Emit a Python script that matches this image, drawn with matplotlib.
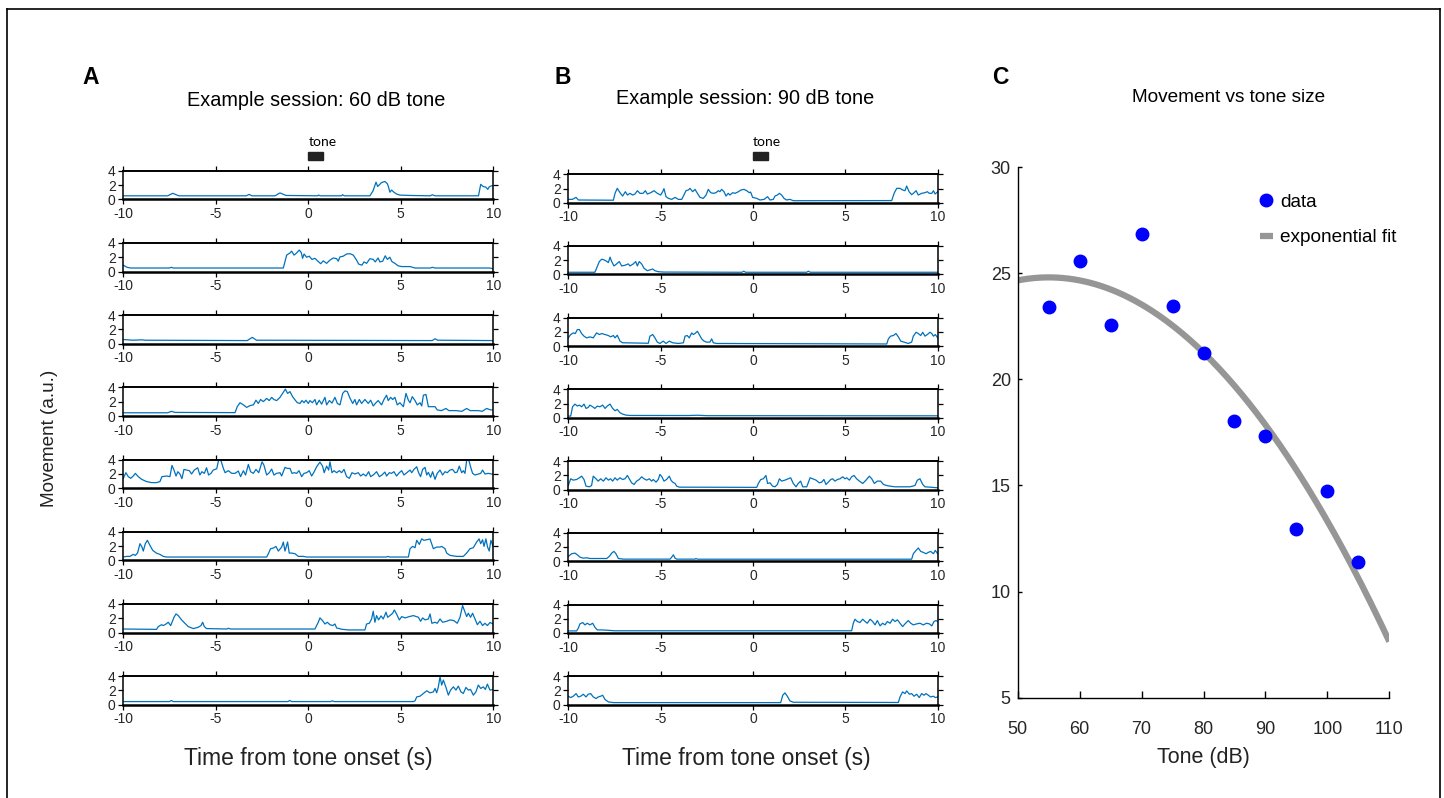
import matplotlib
matplotlib.use("Agg")
import matplotlib.pyplot as plt
import matplotlib.transforms as mtransforms
from matplotlib.patches import Rectangle
import numpy as np

plt.rcParams['font.family'] = ['Liberation Sans', 'DejaVu Sans']
plt.rcParams['axes.unicode_minus'] = False

# ---------------- data ----------------
# Panel A: example session, 60 dB tone (time s, movement a.u.)
A1 = [(-10,0.5),(-7.6,0.5),(-7.33,0.85),(-7.0,0.5),(-3.35,0.5),(-3.2,0.7),(-3.05,0.5),(-1.8,0.5),(-1.53,0.9),(-1.2,0.55),
      (0.5,0.5),(0.55,0.6),(0.65,0.5),(1.8,0.5),(1.85,0.65),(1.95,0.5),(3.33,0.5),(3.5,1.2),(3.66,2.4),(3.75,1.8),(3.96,2.35),
      (4.14,2.5),(4.27,2.2),(4.34,1.7),(4.41,1.0),(4.5,1.3),(4.63,1.0),(4.77,0.75),(4.95,0.6),(5.5,0.55),(6.6,0.5),(6.7,0.65),
      (6.85,0.5),(9.2,0.5),(9.32,2.1),(9.45,1.8),(9.6,1.7),(9.7,1.4),(9.78,1.75),(9.9,1.9),(10,1.9)]
A2 = [(-10,0.9),(-9.8,0.6),(-9.6,0.5),(-7.5,0.5),(-7.4,0.6),(-7.3,0.5),(-1.35,0.5),(-1.17,2.3),(-0.99,2.6),(-0.9,2.85),
      (-0.77,2.3),(-0.63,2.6),(-0.49,3.0),(-0.38,2.65),(-0.31,1.85),(-0.23,2.45),(-0.09,2.0),(0.05,2.15),(0.2,1.7),(0.36,1.85),
      (0.54,1.4),(0.67,1.1),(0.81,1.5),(0.99,1.15),(1.17,1.6),(1.35,1.9),(1.53,1.8),(1.62,1.45),(1.71,2.05),(1.89,2.15),
      (2.07,2.45),(2.25,2.5),(2.43,2.3),(2.61,1.6),(2.72,1.05),(2.9,0.9),(3.01,1.35),(3.15,1.15),(3.33,1.8),(3.51,1.7),
      (3.62,1.35),(3.77,1.9),(3.87,1.35),(4.02,1.45),(4.16,2.2),(4.27,1.7),(4.41,2.0),(4.52,1.4),(4.68,1.15),(4.86,0.8),
      (5.05,0.7),(5.5,0.7),(5.77,0.5),(6.6,0.5),(6.7,0.6),(6.85,0.5),(9.8,0.5),(10,0.4)]
A3 = [(-10,0.6),(-9.5,0.5),(-9.0,0.55),(-8.8,0.5),(-3.3,0.45),(-3.03,0.9),(-2.8,0.5),(6.7,0.45),(6.85,0.7),(7.0,0.5),(10,0.45)]
A4 = [(-10,0.45),(-7.6,0.45),(-7.4,0.65),(-7.2,0.5),(-3.96,0.47),(-3.84,1.3),(-3.69,1.85),(-3.51,1.55),(-3.33,1.2),
      (-3.15,1.45),(-2.97,1.55),(-2.83,2.2),(-2.7,1.75),(-2.58,2.3),(-2.43,2.0),(-2.25,2.45),(-2.11,2.15),(-1.98,2.6),
      (-1.86,2.3),(-1.71,2.15),(-1.53,2.6),(-1.39,3.15),(-1.24,3.75),(-1.12,3.15),(-0.99,3.4),(-0.85,2.7),(-0.72,2.25),
      (-0.59,1.85),(-0.45,1.75),(-0.34,2.15),(-0.23,1.85),(-0.13,2.2),(0.0,1.75),(0.09,2.15),(0.22,1.85),(0.36,2.3),
      (0.45,1.55),(0.59,2.2),(0.72,1.65),(0.9,2.6),(0.99,1.55),(1.14,2.15),(1.28,1.8),(1.44,2.6),(1.57,1.75),(1.71,1.55),
      (1.86,3.15),(1.98,3.5),(2.11,3.4),(2.25,2.5),(2.4,1.75),(2.52,2.3),(2.61,1.55),(2.76,2.3),(2.88,1.75),(3.06,2.3),
      (3.24,1.75),(3.37,2.2),(3.51,1.4),(3.66,1.85),(3.78,2.15),(3.96,1.55),(4.09,2.3),(4.23,2.9),(4.32,2.15),(4.45,2.6),
      (4.56,2.3),(4.68,2.6),(4.81,1.55),(4.95,1.85),(5.14,1.3),(5.28,3.15),(5.41,2.2),(5.5,1.85),(5.62,2.7),(5.77,2.15),
      (5.89,1.55),(6.04,1.85),(6.13,1.4),(6.22,2.9),(6.36,3.0),(6.49,1.3),(6.85,1.3),(6.97,0.85),(7.2,0.75),(7.44,1.05),
      (7.6,0.75),(8.0,0.75),(8.3,0.65),(8.56,1.05),(8.75,0.75),(9.2,0.75),(9.4,0.65),(9.64,1.05),(9.85,0.85),(10,0.85)]
A5 = [(-10,1.38),(-9.86,2.16),(-9.73,1.61),(-9.6,1.38),(-9.46,1.7),(-9.35,2.07),(-9.19,1.61),(-9.01,1.24),(-8.74,0.92),
      (-8.47,0.78),(-8.2,0.78),(-8.02,0.92),(-7.91,1.61),(-7.66,1.7),(-7.48,1.61),(-7.37,3.17),(-7.26,2.53),(-7.15,1.7),
      (-7.05,2.3),(-6.94,1.98),(-6.83,1.33),(-6.72,2.62),(-6.58,2.53),(-6.43,2.44),(-6.31,1.98),(-6.16,2.53),(-5.98,2.85),
      (-5.86,1.84),(-5.75,2.3),(-5.62,2.07),(-5.5,2.85),(-5.39,1.84),(-5.26,2.07),(-5.14,2.53),(-4.95,2.71),(-4.85,3.9),
      (-4.74,4.0),(-4.59,2.76),(-4.5,2.16),(-4.32,2.44),(-4.14,2.07),(-3.96,2.07),(-3.78,2.39),(-3.66,1.61),(-3.51,2.44),
      (-3.39,1.84),(-3.24,3.31),(-3.12,2.3),(-2.97,2.07),(-2.83,2.62),(-2.68,2.16),(-2.5,3.68),(-2.4,3.22),(-2.25,1.84),
      (-2.11,2.16),(-1.98,2.67),(-1.86,1.84),(-1.71,2.07),(-1.53,2.16),(-1.44,1.7),(-1.26,2.9),(-1.14,2.76),(-0.99,2.76),
      (-0.88,2.07),(-0.76,2.16),(-0.63,2.07),(-0.5,2.44),(-0.36,1.61),(-0.23,2.07),(-0.09,2.16),(0.05,2.44),(0.18,1.7),
      (0.31,2.25),(0.45,2.99),(0.63,3.63),(0.77,3.08),(0.86,2.16),(0.99,3.08),(1.1,2.53),(1.17,3.68),(1.28,2.16),(1.39,2.44),
      (1.53,2.16),(1.68,2.44),(1.8,2.16),(1.93,2.62),(2.07,1.61),(2.22,1.38),(2.36,2.16),(2.52,1.98),(2.7,2.16),(2.83,1.7),
      (2.97,1.98),(3.12,1.7),(3.26,2.3),(3.37,1.61),(3.51,1.84),(3.69,2.3),(3.84,1.61),(3.98,1.84),(4.14,2.25),(4.23,1.7),
      (4.38,2.16),(4.5,2.07),(4.63,2.3),(4.77,1.7),(4.92,2.16),(5.05,2.44),(5.17,1.84),(5.32,2.16),(5.5,2.53),(5.59,2.16),
      (5.71,2.62),(5.86,2.99),(5.96,2.16),(6.07,1.61),(6.18,2.62),(6.31,2.9),(6.4,1.84),(6.49,2.21),(6.61,1.52),(6.72,2.3),
      (6.85,1.24),(6.97,2.07),(7.12,2.53),(7.26,1.84),(7.39,2.3),(7.51,2.16),(7.66,2.53),(7.8,2.62),(7.93,2.16),(8.05,2.25),
      (8.16,3.08),(8.29,2.16),(8.38,2.44),(8.47,2.07),(8.56,3.9),(8.67,4.0),(8.77,2.99),(8.88,2.07),(9.01,1.84),(9.19,1.98),
      (9.32,2.07),(9.42,2.53),(9.55,1.98),(9.73,2.07),(10,1.93)]
A6 = [(-10,0.47),(-9.82,0.56),(-9.64,0.56),(-9.46,0.84),(-9.35,0.7),(-9.23,1.02),(-9.1,2.33),(-8.99,1.86),(-8.92,1.3),
      (-8.81,2.33),(-8.7,2.8),(-8.56,2.1),(-8.41,1.4),(-8.2,1.0),(-8.02,0.84),(-7.84,0.56),(-7.66,0.47),(-2.25,0.47),
      (-2.16,0.93),(-2.04,1.63),(-1.89,1.72),(-1.75,1.95),(-1.62,1.3),(-1.44,1.86),(-1.35,2.56),(-1.26,1.3),(-1.12,2.56),
      (-1.03,1.02),(-0.9,1.02),(-0.72,0.93),(-0.54,0.56),(-0.27,0.56),(-0.09,0.47),(4.2,0.47),(4.3,0.55),(4.4,0.47),
      (5.41,0.47),(5.5,1.63),(5.64,1.95),(5.77,1.77),(5.86,2.8),(6.0,2.23),(6.13,3.0),(6.25,2.8),(6.4,2.88),(6.58,2.98),
      (6.76,1.63),(6.94,1.86),(7.12,1.86),(7.21,1.95),(7.39,1.63),(7.48,1.02),(7.66,0.7),(8.02,0.56),(8.38,0.56),(8.56,1.02),
      (8.74,1.63),(8.92,1.77),(9.1,2.56),(9.23,3.0),(9.32,2.33),(9.42,2.88),(9.5,1.95),(9.6,3.0),(9.69,1.86),(9.78,1.3),
      (9.87,2.8),(10,1.86)]
A7 = [(-10,0.5),(-8.2,0.45),(-8.11,0.84),(-7.93,1.1),(-7.84,0.98),(-7.69,1.2),(-7.57,1.44),(-7.44,0.98),(-7.33,1.67),
      (-7.26,2.14),(-7.15,2.6),(-7.03,2.37),(-6.85,1.77),(-6.67,1.3),(-6.49,0.84),(-6.22,0.56),(-5.95,0.74),(-5.8,0.98),
      (-5.71,1.44),(-5.62,0.84),(-5.5,0.56),(-4.4,0.5),(-4.32,0.6),(-4.2,0.5),(0.36,0.5),(0.45,0.98),(0.54,1.44),(0.63,2.05),
      (0.77,1.67),(0.9,1.2),(1.03,1.44),(1.17,1.1),(1.32,0.98),(1.44,1.2),(1.53,0.65),(1.8,0.47),(2.16,0.37),(3.06,0.37),
      (3.15,1.2),(3.3,1.3),(3.42,1.9),(3.51,2.98),(3.6,1.44),(3.69,2.37),(3.8,1.77),(3.93,2.33),(4.05,1.9),(4.2,2.84),
      (4.29,2.14),(4.41,2.37),(4.56,2.7),(4.65,3.16),(4.77,2.6),(4.92,1.77),(5.05,2.23),(5.23,2.05),(5.46,2.23),(5.68,2.37),
      (5.95,2.14),(6.07,1.58),(6.18,2.05),(6.31,1.77),(6.49,1.9),(6.58,2.6),(6.68,1.3),(6.85,1.44),(6.97,1.3),(7.12,1.9),
      (7.26,1.44),(7.48,1.58),(7.66,1.77),(7.87,1.67),(8.05,1.3),(8.2,2.14),(8.34,3.77),(8.44,3.07),(8.56,2.23),(8.65,2.7),
      (8.77,2.14),(8.88,2.7),(9.01,1.9),(9.14,1.1),(9.28,1.58),(9.42,0.98),(9.55,1.3),(9.68,0.98),(9.82,1.4),(10,1.2)]
A8 = [(-10,0.45),(-7.5,0.45),(-7.4,0.6),(-7.3,0.45),(-1.1,0.45),(-1.0,0.6),(-0.9,0.45),(1.2,0.45),(1.3,0.55),(1.4,0.45),
      (5.68,0.45),(5.77,0.56),(5.86,1.1),(6.04,1.2),(6.22,1.58),(6.4,1.95),(6.58,1.67),(6.76,1.8),(6.85,2.28),(6.94,1.67),
      (7.03,2.5),(7.12,3.9),(7.21,2.75),(7.3,3.44),(7.42,2.6),(7.57,1.35),(7.69,2.05),(7.84,2.5),(7.98,2.05),(8.11,2.6),
      (8.25,1.8),(8.38,1.58),(8.52,2.42),(8.65,2.05),(8.77,2.14),(8.92,1.35),(9.06,1.8),(9.19,2.75),(9.32,2.28),(9.46,2.5),
      (9.57,2.14),(9.68,2.88),(9.82,2.05),(10,2.14)]

# Panel B: example session, 90 dB tone
B1 = [(-10,0.47),(-9.78,0.47),(-9.58,0.75),(-9.45,0.38),(-7.56,0.35),(-7.47,1.32),(-7.35,2.02),(-7.2,1.41),(-7.06,0.94),
      (-6.91,1.55),(-6.8,1.08),(-6.66,1.32),(-6.52,1.08),(-6.39,1.22),(-6.26,1.69),(-6.12,1.32),(-5.95,1.32),(-5.83,1.69),
      (-5.72,1.22),(-5.54,1.41),(-5.36,1.69),(-5.18,1.32),(-5.0,1.08),(-4.89,1.55),(-4.82,1.98),(-4.71,0.85),(-4.58,0.61),
      (-4.4,0.47),(-4.22,0.75),(-4.04,0.47),(-3.86,0.47),(-3.74,1.08),(-3.63,1.69),(-3.5,1.79),(-3.41,2.02),(-3.27,1.55),
      (-3.14,1.88),(-3.01,1.32),(-2.87,0.75),(-2.69,0.61),(-2.54,1.08),(-2.42,1.88),(-2.29,1.41),(-2.15,1.32),(-2.0,1.41),
      (-1.88,1.69),(-1.79,1.55),(-1.7,1.88),(-1.57,1.55),(-1.46,0.94),(-1.34,1.32),(-1.25,1.08),(-1.1,1.41),(-0.97,1.32),
      (-0.79,1.55),(-0.65,1.79),(-0.49,1.88),(-0.34,1.69),(-0.2,1.41),(-0.13,1.5),(-0.02,0.75),(0.2,0.61),(0.38,0.38),
      (0.6,0.47),(0.79,0.85),(0.92,0.38),(1.1,0.47),(1.19,0.94),(1.32,1.08),(1.43,1.32),(1.55,1.08),(1.68,0.61),(1.82,0.38),
      (2.0,0.47),(2.18,0.28),(7.51,0.3),(7.64,1.32),(7.78,2.02),(7.96,2.02),(8.1,1.79),(8.23,1.69),(8.32,2.35),(8.45,1.55),
      (8.59,1.13),(8.72,1.41),(8.83,1.69),(8.95,1.08),(9.13,1.32),(9.31,1.41),(9.44,1.55),(9.55,1.32),(9.68,1.32),(9.77,1.69),
      (9.86,1.22),(10,1.55)]
B2 = [(-10,0.3),(-8.56,0.3),(-8.47,0.86),(-8.32,1.81),(-8.19,2.14),(-8.07,2.05),(-7.96,1.9),(-7.83,1.67),(-7.74,2.43),
      (-7.65,1.81),(-7.53,1.19),(-7.38,1.48),(-7.24,1.81),(-7.11,1.19),(-6.93,1.29),(-6.75,1.48),(-6.66,1.19),(-6.48,1.48),
      (-6.35,1.81),(-6.26,1.19),(-6.16,1.81),(-6.03,1.48),(-5.9,0.86),(-5.72,0.52),(-5.43,0.76),(-5.31,0.52),(-5.13,0.38),
      (-4.86,0.33),(-0.6,0.3),(-0.5,0.45),(-0.4,0.3),(2.9,0.3),(3.0,0.45),(3.1,0.3),(10,0.3)]
B3 = [(-10,1.16),(-9.87,1.63),(-9.73,1.86),(-9.62,1.77),(-9.51,2.33),(-9.4,2.33),(-9.28,1.77),(-9.15,1.4),(-9.01,1.16),
      (-8.83,1.3),(-8.65,1.16),(-8.47,1.86),(-8.32,1.63),(-8.19,1.77),(-8.01,1.63),(-7.83,1.49),(-7.71,1.3),(-7.56,1.49),
      (-7.47,1.16),(-7.35,1.53),(-7.2,0.7),(-7.06,0.47),(-5.67,0.4),(-5.58,1.4),(-5.43,1.63),(-5.31,1.16),(-5.18,0.56),
      (-5.04,0.37),(-4.86,0.7),(-4.71,0.37),(-4.53,0.7),(-4.35,0.47),(-4.04,0.37),(-3.77,0.47),(-3.68,1.4),(-3.56,1.49),
      (-3.45,1.16),(-3.32,1.86),(-3.23,1.63),(-3.14,1.77),(-3.01,2.09),(-2.91,1.63),(-2.78,1.02),(-2.65,0.7),(-2.51,0.56),
      (-2.33,0.56),(-2.24,1.02),(-2.15,0.47),(-1.97,0.37),(7.24,0.3),(7.33,1.02),(7.45,1.4),(7.6,1.49),(7.74,1.77),
      (7.87,1.3),(8.0,0.7),(8.18,0.56),(8.41,0.37),(8.59,0.56),(8.68,1.4),(8.83,1.95),(8.95,1.77),(9.08,1.49),(9.19,1.95),
      (9.31,1.4),(9.44,1.63),(9.58,1.95),(9.68,1.77),(9.77,1.4),(9.87,1.63),(10,1.16)]
B4 = [(-10,0.24),(-9.87,0.24),(-9.77,1.55),(-9.64,1.93),(-9.51,1.65),(-9.4,1.79),(-9.28,1.55),(-9.15,1.93),(-9.04,1.32),
      (-8.92,1.46),(-8.83,1.79),(-8.68,1.55),(-8.56,1.32),(-8.43,1.65),(-8.29,1.55),(-8.14,1.79),(-8.01,1.32),(-7.89,1.65),
      (-7.74,1.93),(-7.6,1.32),(-7.47,0.99),(-7.35,1.18),(-7.2,0.71),(-7.06,0.52),(-6.88,0.38),(-6.66,0.33),(-3.5,0.32),
      (-3.0,0.36),(-2.5,0.3),(10,0.28)]
B5 = [(-10,0.56),(-9.87,1.51),(-9.73,1.32),(-9.55,1.41),(-9.4,1.65),(-9.28,1.88),(-9.15,1.41),(-9.04,0.47),(-8.86,0.38),
      (-8.74,0.56),(-8.65,1.88),(-8.5,1.51),(-8.38,1.18),(-8.25,1.51),(-8.1,1.18),(-7.96,1.65),(-7.83,1.32),(-7.71,1.51),
      (-7.6,1.18),(-7.47,1.65),(-7.35,1.32),(-7.2,1.65),(-7.06,1.41),(-6.93,1.51),(-6.8,1.98),(-6.7,1.51),(-6.57,0.94),
      (-6.44,0.71),(-6.3,1.18),(-6.16,1.41),(-6.03,1.79),(-5.9,1.51),(-5.76,1.32),(-5.61,1.51),(-5.49,1.18),(-5.4,1.41),
      (-5.25,1.04),(-5.13,1.41),(-5.04,2.12),(-4.93,1.79),(-4.82,1.18),(-4.68,1.41),(-4.53,1.88),(-4.44,1.32),(-4.35,1.04),
      (-4.22,0.85),(-4.13,0.47),(-3.99,0.33),(0.2,0.3),(0.29,0.85),(0.42,1.41),(0.56,1.51),(0.7,1.98),(0.79,0.85),(0.92,0.94),
      (1.06,0.47),(1.19,0.38),(1.32,0.71),(1.43,1.51),(1.55,1.18),(1.73,1.32),(1.91,1.51),(2.04,1.65),(2.18,0.85),(2.33,0.38),
      (2.45,0.85),(2.58,1.18),(2.69,0.38),(2.91,0.38),(3.09,1.65),(3.23,1.51),(3.41,1.32),(3.59,0.94),(3.72,1.04),(3.84,1.41),
      (3.95,0.71),(4.08,1.04),(4.21,1.41),(4.31,1.51),(4.44,1.18),(4.57,1.41),(4.71,1.51),(4.86,1.79),(4.98,1.51),(5.07,1.65),
      (5.22,1.32),(5.34,1.79),(5.47,1.98),(5.61,1.51),(5.76,1.18),(5.94,0.85),(6.12,1.32),(6.3,1.88),(6.43,1.51),(6.57,0.85),
      (6.73,1.18),(6.91,1.18),(7.06,0.71),(7.24,0.56),(7.42,0.47),(7.69,0.38),(8.5,0.38),(8.77,0.56),(8.9,1.32),(9.04,1.51),
      (9.19,0.71),(9.31,0.38),(9.58,0.33),(10,0.24)]
B6 = [(-10,0.67),(-9.82,1.05),(-9.64,1.14),(-9.51,0.9),(-9.37,0.57),(-9.19,0.43),(-9.01,0.48),(-8.83,0.38),(-7.92,0.38),
      (-7.78,0.67),(-7.65,1.14),(-7.53,1.38),(-7.42,1.05),(-7.29,0.38),(-7.02,0.29),(-4.49,0.29),(-4.4,0.57),(-4.31,0.9),
      (-4.22,0.43),(-4.13,0.29),(-3.14,0.29),(-3.09,0.38),(-3.0,0.28),(8.59,0.28),(8.68,1.05),(8.83,1.52),(8.95,1.86),
      (9.08,1.38),(9.22,1.24),(9.37,1.05),(9.49,1.24),(9.62,1.38),(9.77,1.05),(9.87,1.52),(10,1.05)]
B7 = [(-10,0.28),(-9.55,0.28),(-9.46,0.66),(-9.37,1.27),(-9.22,1.46),(-9.1,1.13),(-8.97,1.36),(-8.83,1.13),(-8.68,1.36),
      (-8.56,0.8),(-8.43,0.42),(-8.19,0.42),(-7.92,0.38),(-7.5,0.3),(5.34,0.3),(5.43,1.36),(5.52,1.93),(5.65,1.6),(5.79,1.46),
      (5.94,1.93),(6.07,1.6),(6.19,1.36),(6.34,1.93),(6.48,1.6),(6.61,1.13),(6.73,1.74),(6.88,0.99),(7.02,1.36),(7.15,1.13),
      (7.27,1.6),(7.42,1.36),(7.56,1.93),(7.69,1.6),(7.82,1.84),(7.96,1.36),(8.1,0.89),(8.23,1.27),(8.41,1.74),(8.54,1.36),
      (8.68,1.13),(8.86,1.27),(9.04,1.36),(9.22,1.13),(9.4,1.36),(9.55,1.27),(9.68,0.99),(9.8,1.6),(9.91,1.74),(10,1.6)]
B8 = [(-10,1.18),(-9.87,0.99),(-9.73,1.18),(-9.58,1.55),(-9.46,1.08),(-9.33,1.18),(-9.19,1.46),(-9.04,1.08),(-8.92,1.46),
      (-8.79,1.55),(-8.65,1.08),(-8.5,0.85),(-8.38,1.08),(-8.25,1.18),(-8.14,1.32),(-8.01,0.71),(-7.83,0.38),(-7.56,0.28),
      (1.5,0.28),(1.61,1.32),(1.73,1.65),(1.86,1.18),(2.0,0.52),(2.18,0.33),(7.87,0.3),(7.96,1.08),(8.1,1.79),(8.23,1.55),
      (8.32,1.93),(8.47,1.46),(8.59,1.55),(8.72,1.18),(8.86,1.46),(9.0,0.99),(9.13,1.55),(9.26,1.32),(9.37,1.55),(9.49,1.32),
      (9.62,1.08),(9.77,1.18),(9.87,0.99),(10,1.08)]

trials_60dB = [A1, A2, A3, A4, A5, A6, A7, A8]
trials_90dB = [B1, B2, B3, B4, B5, B6, B7, B8]
tone_window = (0.0, 0.8)          # s
x_ticks = [-10, -5, 0, 5, 10]
y_ticks = [0, 2, 4]

# Panel C
tone_db = [55, 60, 65, 70, 75, 80, 85, 90, 95, 100, 105]
movement = [23.4, 25.55, 22.55, 26.85, 23.45, 21.25, 18.05, 17.35, 12.95, 14.75, 11.4]
fit_peak_db = 55.0
fit_peak_value = 24.8
fit_curvature = -0.00567
fit_range = (50, 110)

# ---------------- layout ----------------
W, H = 1444, 798
fig = plt.figure(figsize=(W / 100, H / 100), dpi=100)

def fx(px):
    return px / W

def fy(py):
    return 1 - py / H

TRACE_COLOR = '#0072BD'
TICK_COLOR = '#262626'

def trace_axes(left, right, top, height):
    ax = fig.add_axes([fx(left), fy(top + height), (right - left) / W, height / H])
    ax.set_xlim(-10, 10)
    ax.set_ylim(0, 4)
    ax.set_xticks(x_ticks)
    ax.set_yticks(y_ticks)
    ax.tick_params(direction='out', length=3.5, width=0.9, top=True, right=True,
                   labeltop=False, labelright=False, labelsize=10, colors='black',
                   labelcolor=TICK_COLOR, pad=2)
    for s in ax.spines.values():
        s.set_linewidth(1.1)
    ax.spines['bottom'].set_linewidth(1.8)
    ax.spines['top'].set_linewidth(1.4)
    return ax

def draw_column(trials, left, right, top0, step, height, xc, title_xc, title, letter, letter_x, title_y):
    axes = []
    for i, tr in enumerate(trials):
        ax = trace_axes(left, right, top0 + i * step, height)
        t = [p[0] for p in tr]
        v = [p[1] for p in tr]
        ax.plot(t, v, color=TRACE_COLOR, lw=0.9, clip_on=True)
        axes.append(ax)
    ax0 = axes[0]
    trans = mtransforms.blended_transform_factory(ax0.transData, fig.transFigure)
    ax0.add_patch(Rectangle((tone_window[0], fy(159.5)), tone_window[1] - tone_window[0],
                            fy(152) - fy(159.5), transform=trans, color='#222222',
                            clip_on=False))
    ax0.text(tone_window[0], fy(146), 'tone', transform=trans, ha='left', va='baseline',
             fontsize=10, family=['Lato', 'DejaVu Sans'])
    fig.text(fx(title_xc), fy(title_y), title, ha='center', va='center', fontsize=14.3)
    fig.text(fx(letter_x), fy(78), letter, ha='center', va='center', fontsize=16.5, fontweight='bold')
    fig.text(fx(xc), fy(758), 'Time from tone onset (s)', ha='center', va='center', fontsize=16.5,
             color='#222222')
    return axes

draw_column(trials_60dB, 123.3, 493.3, 170.7, 72.2, 28.7, 308, 316,
            'Example session: 60 dB tone', 'A', 91, 100)
draw_column(trials_90dB, 568.3, 937.7, 174.3, 71.7, 28.4, 746, 745,
            'Example session: 90 dB tone', 'B', 563, 98)

fig.text(fx(50), fy(438), 'Movement (a.u.)', rotation=90, ha='center', va='center',
         fontsize=13.6, color='#222222')

# Panel C
axc = fig.add_axes([fx(1017.7), fy(697.7), (1389.3 - 1017.7) / W, (697.7 - 167) / H])
xf = np.linspace(fit_range[0], fit_range[1], 200)
yf = fit_peak_value + fit_curvature * (xf - fit_peak_db) ** 2
axc.plot(xf, yf, color='#969696', lw=4.5, solid_capstyle='butt', label='exponential fit', zorder=2)
axc.plot(tone_db, movement, 'o', color='#0000FF', ms=9, label='data', zorder=3, linestyle='none')
axc.set_xlim(50, 110)
axc.set_ylim(5, 30)
axc.set_xticks([50, 60, 70, 80, 90, 100, 110])
axc.set_yticks([5, 10, 15, 20, 25, 30])
axc.spines['top'].set_visible(False)
axc.spines['right'].set_visible(False)
axc.spines['left'].set_linewidth(1.0)
axc.spines['bottom'].set_linewidth(1.0)
axc.tick_params(axis='x', direction='in', length=5, width=1.0, labelsize=13, pad=17,
                labelcolor=TICK_COLOR)
axc.tick_params(axis='y', direction='in', length=3, width=1.0, labelsize=13, pad=5,
                labelcolor=TICK_COLOR)
axc.set_xlabel('Tone (dB)', fontsize=15.5, labelpad=6, color='#222222')
handles, labels = axc.get_legend_handles_labels()
leg = axc.legend(handles[::-1], labels[::-1], frameon=False, fontsize=13.7,
                 loc='upper left', bbox_to_anchor=(0.631, 0.964), handlelength=0.7,
                 handletextpad=0.35, labelspacing=0.95, borderaxespad=0)
fig.text(fx(1229), fy(97), 'Movement vs tone size', ha='center', va='center', fontsize=13.7)
fig.text(fx(1000), fy(77), 'C', ha='center', va='center', fontsize=16.5, fontweight='bold')

# figure frame (top, left, right)
frame_kw = dict(color='black', lw=1.2, transform=fig.transFigure)
fig.add_artist(plt.Line2D([fx(7), fx(1439.5)], [fy(9), fy(9)], **frame_kw))
fig.add_artist(plt.Line2D([fx(7), fx(7)], [fy(9), 0], **frame_kw))
fig.add_artist(plt.Line2D([fx(1439.5), fx(1439.5)], [fy(9), 0], **frame_kw))

fig.savefig('out.png', dpi=100)
